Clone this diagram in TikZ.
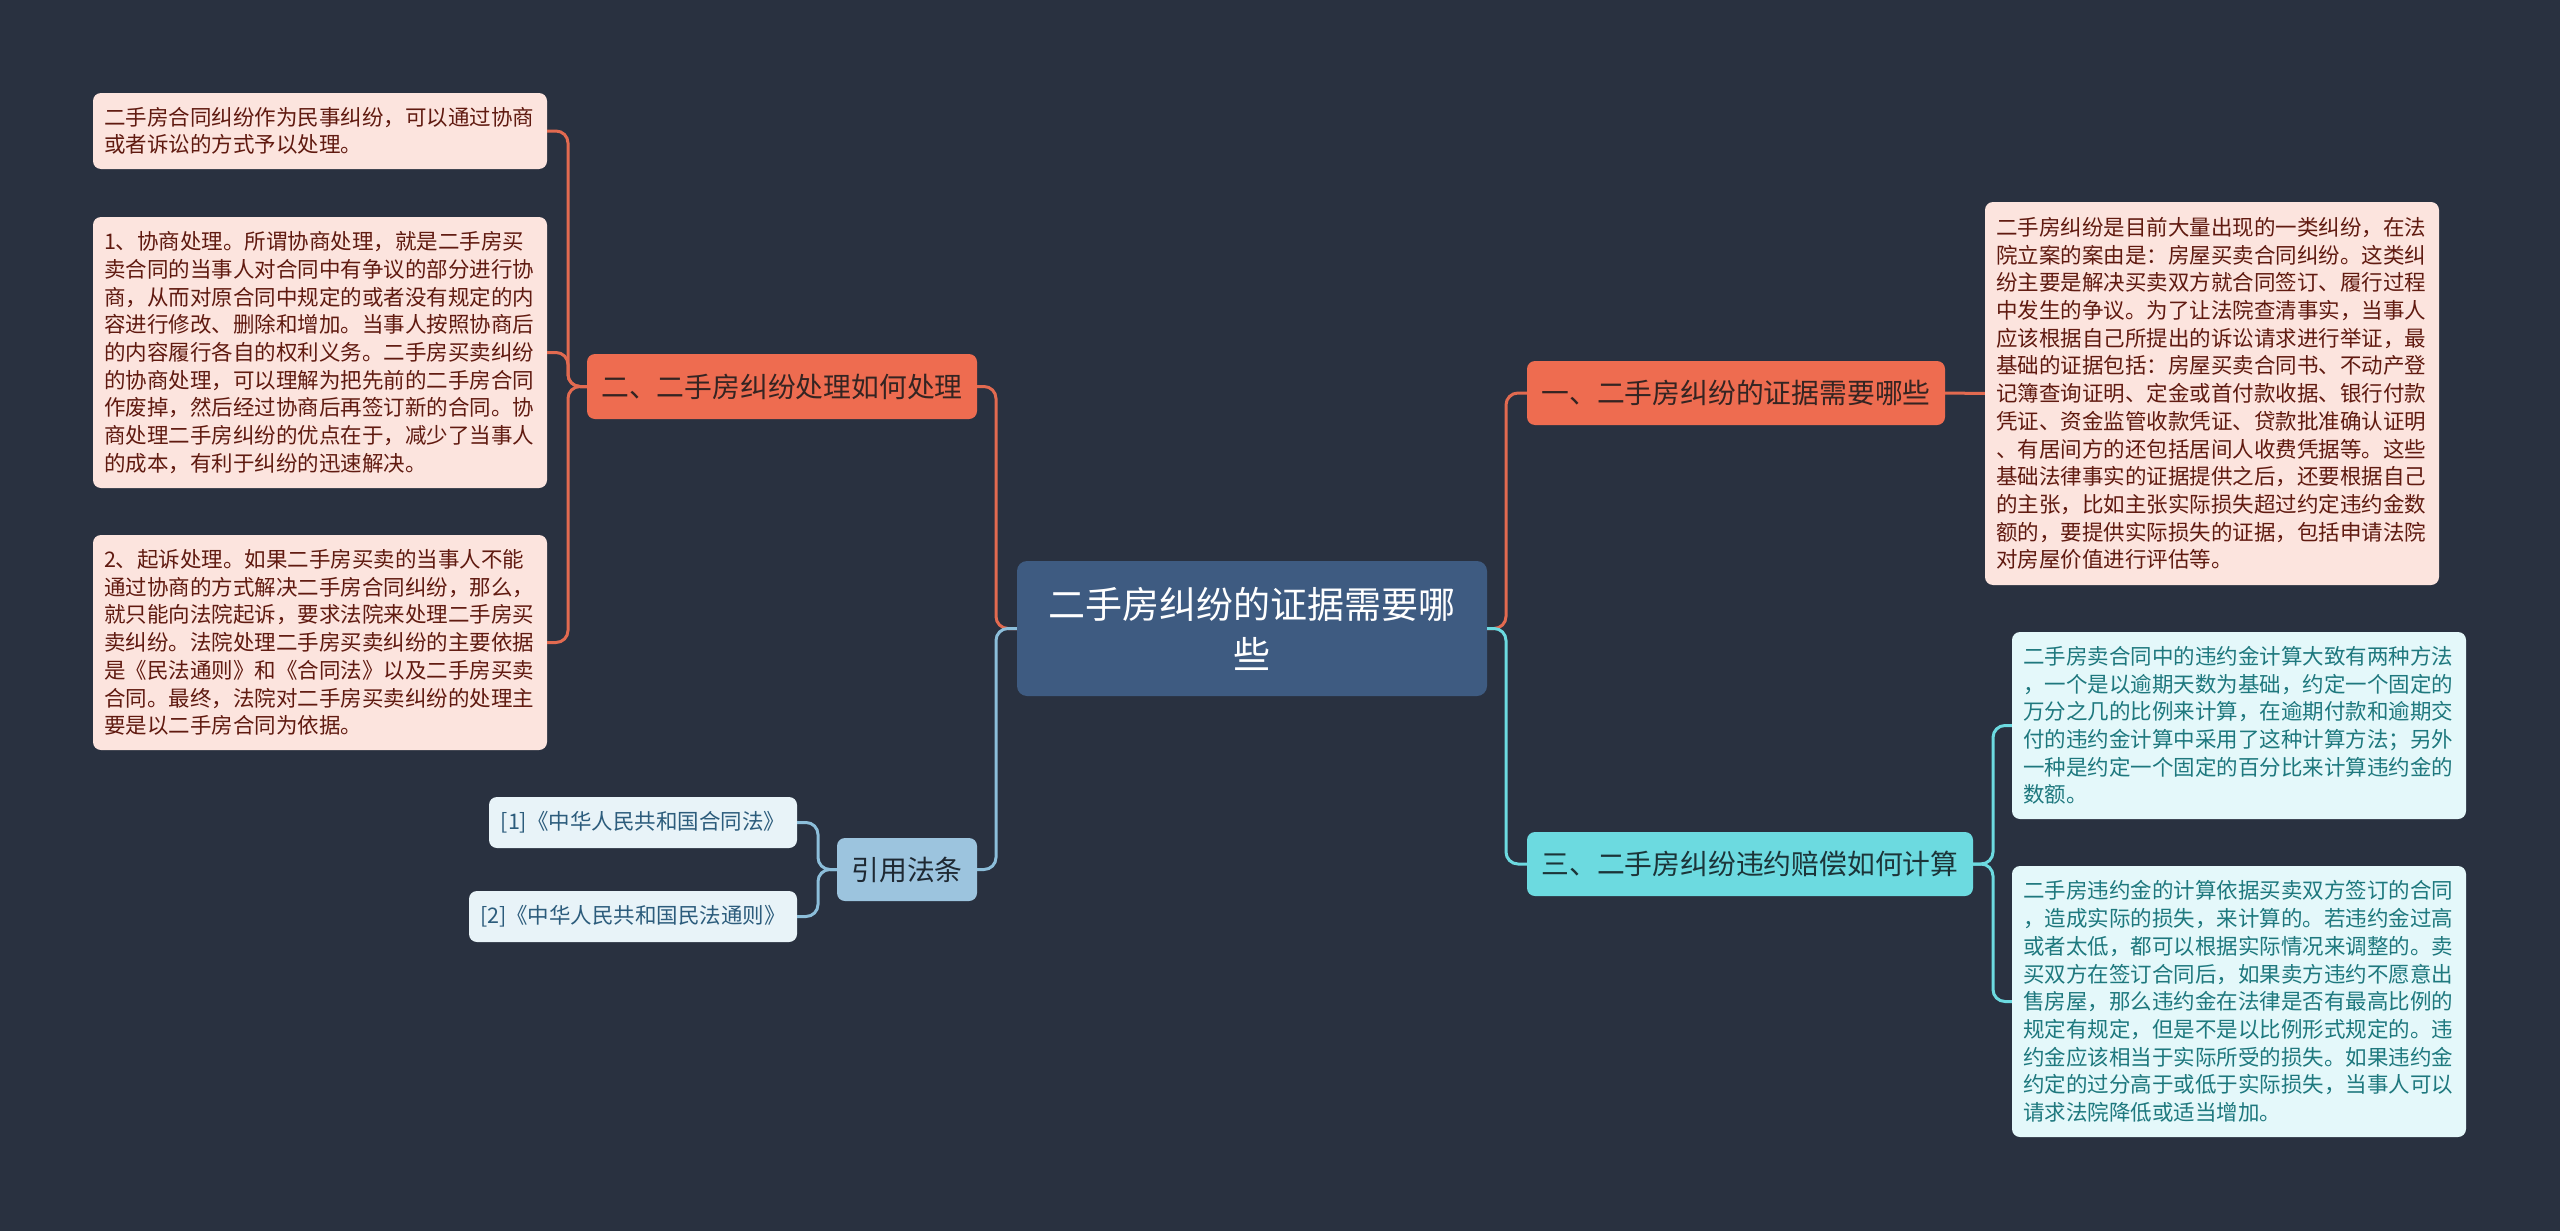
\documentclass[tikz,border=0pt]{standalone}
\usepackage{fontspec}
\setmainfont{Noto Sans CJK SC}
\definecolor{bg}{RGB}{41,49,64}
\definecolor{rootfill}{RGB}{62,91,129}
\definecolor{orfill}{RGB}{238,108,80}
\definecolor{orline}{RGB}{226,106,80}
\definecolor{ortext}{RGB}{52,36,34}
\definecolor{lofill}{RGB}{252,228,222}
\definecolor{lotext}{RGB}{96,26,16}
\definecolor{cyfill}{RGB}{108,218,224}
\definecolor{cyline}{RGB}{108,218,224}
\definecolor{cytext}{RGB}{28,52,56}
\definecolor{lcfill}{RGB}{228,248,250}
\definecolor{lctext}{RGB}{30,120,126}
\definecolor{ctfill}{RGB}{156,196,222}
\definecolor{ctline}{RGB}{140,190,218}
\definecolor{cttext}{RGB}{30,40,50}
\definecolor{lbfill}{RGB}{232,243,248}
\definecolor{lbtext}{RGB}{44,92,124}
\begin{document}
\begin{tikzpicture}[x=1pt,y=-1pt,
  box/.style={rounded corners=8pt, inner xsep=11pt, inner ysep=0pt, anchor=center},
  leafbig/.style={box, align=left, font=\fontsize{21.5}{27.7}\selectfont, minimum width=454pt, text width=432pt},
  leafo/.style={leafbig, fill=lofill, text=lotext},
  leafc/.style={leafbig, fill=lcfill, text=lctext},
  leafb/.style={box, align=center, font=\fontsize{21.5}{26}\selectfont, fill=lbfill, text=lbtext, minimum height=51pt},
  branch/.style={box, align=center, font=\fontsize{27.8}{34}\selectfont, minimum height=64pt},
  brancho/.style={branch, fill=orfill, text=ortext},
  branchc/.style={branch, fill=cyfill, text=cytext},
  branchb/.style={branch, fill=ctfill, text=cttext},
  lineo/.style={draw=orline, line width=3pt, rounded corners=12pt},
  linec/.style={draw=cyline, line width=3pt, rounded corners=12pt},
  lineb/.style={draw=ctline, line width=3pt, rounded corners=12pt}
]
\fill[bg] (0,0) rectangle (2560,1231);
\useasboundingbox (0,0) rectangle (2560,1231);

% root
\node[box, rounded corners=10pt, fill=rootfill, text=white, align=center,
  font=\fontsize{37}{50}\selectfont, minimum width=470pt, minimum height=135pt, text width=448pt]
  (root) at (1252,628.5) {二手房纠纷的证据需要哪\\些};

% branches
\node[brancho, minimum width=390pt, minimum height=65pt] (b2) at (782,386.5) {二、二手房纠纷处理如何处理};
\node[brancho, minimum width=418pt] (b1) at (1736,393) {一、二手房纠纷的证据需要哪些};
\node[branchc, minimum width=446pt] (b3) at (1750,864) {三、二手房纠纷违约赔偿如何计算};
\node[branchb, minimum width=140pt, minimum height=63pt] (cite) at (907,869.5) {引用法条};

% left leaves
\node[leafo, minimum height=76pt] (l0) at (320,131) {二手房合同纠纷作为民事纠纷，可以通过协商\\或者诉讼的方式予以处理。};
\node[leafo, minimum height=271pt] (l1) at (320,352.5) {1、协商处理。所谓协商处理，就是二手房买\\卖合同的当事人对合同中有争议的部分进行协\\商，从而对原合同中规定的或者没有规定的内\\容进行修改、删除和增加。当事人按照协商后\\的内容履行各自的权利义务。二手房买卖纠纷\\的协商处理，可以理解为把先前的二手房合同\\作废掉，然后经过协商后再签订新的合同。协\\商处理二手房纠纷的优点在于，减少了当事人\\的成本，有利于纠纷的迅速解决。};
\node[leafo, minimum height=215pt] (l2) at (320,642.5) {2、起诉处理。如果二手房买卖的当事人不能\\通过协商的方式解决二手房合同纠纷，那么，\\就只能向法院起诉，要求法院来处理二手房买\\卖纠纷。法院处理二手房买卖纠纷的主要依据\\是《民法通则》和《合同法》以及二手房买卖\\合同。最终，法院对二手房买卖纠纷的处理主\\要是以二手房合同为依据。};

% citation leaves
\node[leafb, minimum width=308pt] (c1) at (643,822.5) {[1]《中华人民共和国合同法》};
\node[leafb, minimum width=328pt] (c2) at (633,916.5) {[2]《中华人民共和国民法通则》};

% right leaves
\node[leafo, minimum height=383pt] (r1) at (2212,393.5) {二手房纠纷是目前大量出现的一类纠纷，在法\\院立案的案由是：房屋买卖合同纠纷。这类纠\\纷主要是解决买卖双方就合同签订、履行过程\\中发生的争议。为了让法院查清事实，当事人\\应该根据自己所提出的诉讼请求进行举证，最\\基础的证据包括：房屋买卖合同书、不动产登\\记簿查询证明、定金或首付款收据、银行付款\\凭证、资金监管收款凭证、贷款批准确认证明\\、有居间方的还包括居间人收费凭据等。这些\\基础法律事实的证据提供之后，还要根据自己\\的主张，比如主张实际损失超过约定违约金数\\额的，要提供实际损失的证据，包括申请法院\\对房屋价值进行评估等。};
\node[leafc, minimum height=187pt] (r2) at (2239,725.5) {二手房卖合同中的违约金计算大致有两种方法\\，一个是以逾期天数为基础，约定一个固定的\\万分之几的比例来计算，在逾期付款和逾期交\\付的违约金计算中采用了这种计算方法；另外\\一种是约定一个固定的百分比来计算违约金的\\数额。};
\node[leafc, minimum height=271pt] (r3) at (2239,1001.5) {二手房违约金的计算依据买卖双方签订的合同\\，造成实际的损失，来计算的。若违约金过高\\或者太低，都可以根据实际情况来调整的。卖\\买双方在签订合同后，如果卖方违约不愿意出\\售房屋，那么违约金在法律是否有最高比例的\\规定有规定，但是不是以比例形式规定的。违\\约金应该相当于实际所受的损失。如果违约金\\约定的过分高于或低于实际损失，当事人可以\\请求法院降低或适当增加。};

% junctions
\coordinate (jL) at (996,628.5);
\coordinate (jR) at (1506,628.5);
\coordinate (j2) at (568,386.5);
\coordinate (j3) at (1993,864);
\coordinate (jC) at (818,869.5);

% connectors
\begin{scope}[on background layer/.style={}]
\draw[lineo] (root.west) -- (jL) |- (b2.east);
\draw[lineb] (root.west) -- (jL) |- (cite.east);
\draw[lineo] (root.east) -- (jR) |- (b1.west);
\draw[linec] (root.east) -- (jR) |- (b3.west);
\draw[lineo] (b2.west) -- (j2) |- (l0.east);
\draw[lineo] (b2.west) -- (j2) |- (l1.east);
\draw[lineo] (b2.west) -- (j2) |- (l2.east);
\draw[lineo] (b1.east) -- (r1.west);
\draw[linec] (b3.east) -- (j3) |- (r2.west);
\draw[linec] (b3.east) -- (j3) |- (r3.west);
\draw[lineb] (cite.west) -- (jC) |- (c1.east);
\draw[lineb] (cite.west) -- (jC) |- (c2.east);
\end{scope}
\end{tikzpicture}
\end{document}
